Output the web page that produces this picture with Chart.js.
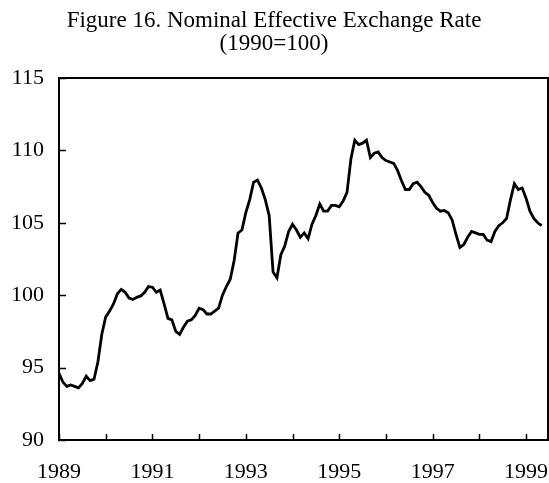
<!DOCTYPE html>
<html>
<head>
<meta charset="utf-8">
<script src="https://cdn.jsdelivr.net/npm/chart.js@4"></script>
<style>
  html, body { margin: 0; padding: 0; background: #fff; }
  #wrap { width: 549px; height: 483px; position: relative; }
</style>
</head>
<body>
<div id="wrap"><canvas id="c" width="549" height="483"></canvas></div>
<script>
// Monthly index, Jan 1989 .. May 1999 (1990=100)
const startYear = 1989;
const neerValues = [
  94.6, 94.0, 93.7, 93.8, 93.7, 93.6, 93.9, 94.4, 94.1, 94.2, 95.4, 97.3,   // 1989
  98.5, 98.9, 99.4, 100.1, 100.4, 100.2, 99.8, 99.7, 99.85, 99.95, 100.2, 100.6, // 1990
  100.55, 100.2, 100.35, 99.4, 98.4, 98.3, 97.5, 97.3, 97.8, 98.2, 98.3, 98.6,  // 1991
  99.1, 99.0, 98.7, 98.7, 98.9, 99.1, 100.0, 100.6, 101.1, 102.4, 104.3, 104.5, // 1992
  105.7, 106.6, 107.8, 107.95, 107.4, 106.6, 105.5, 101.6, 101.2, 102.8, 103.4, 104.4, // 1993
  104.9, 104.5, 104.0, 104.3, 103.9, 104.9, 105.5, 106.3, 105.8, 105.8, 106.2, 106.2, // 1994
  106.1, 106.5, 107.1, 109.4, 110.7, 110.4, 110.5, 110.7, 109.5, 109.8, 109.9, 109.5, // 1995
  109.3, 109.2, 109.1, 108.6, 107.9, 107.3, 107.3, 107.7, 107.8, 107.5, 107.1, 106.9, // 1996
  106.4, 106.0, 105.8, 105.85, 105.7, 105.2, 104.2, 103.3, 103.5, 104.0, 104.4, 104.3, // 1997
  104.2, 104.2, 103.8, 103.7, 104.4, 104.8, 105.0, 105.3, 106.6, 107.7, 107.3, 107.4, // 1998
  106.7, 105.8, 105.3, 105.0, 104.8                                                   // 1999
];
const yearTicks = [1989, 1990, 1991, 1992, 1993, 1994, 1995, 1996, 1997, 1998, 1999];
const yearLabels = ['1989', '', '1991', '', '1993', '', '1995', '', '1997', '', '1999'];
const yTickValues = [90, 95, 100, 105, 110, 115];
const titleLines = ['Figure 16. Nominal Effective Exchange Rate', '(1990=100)'];

const points = neerValues.map((v, i) => ({ x: startYear + i / 12, y: v }));

const serif = '"Liberation Serif", "Times New Roman", serif';

const frameAndTicks = {
  id: 'frameAndTicks',
  afterDraw(chart) {
    const { ctx, chartArea: a, scales } = chart;
    ctx.save();
    ctx.strokeStyle = '#000';
    ctx.lineWidth = 2;
    ctx.strokeRect(a.left, a.top, a.right - a.left, a.bottom - a.top);
    ctx.lineWidth = 1.5;
    ctx.beginPath();
    scales.y.ticks.forEach(t => {
      const py = Math.round(scales.y.getPixelForValue(t.value)) + 0.5;
      ctx.moveTo(a.left, py);
      ctx.lineTo(a.left + 7, py);
    });
    scales.x.ticks.forEach(t => {
      const px = Math.round(scales.x.getPixelForValue(t.value)) + 0.5;
      ctx.moveTo(px, a.bottom);
      ctx.lineTo(px, a.bottom - 6);
    });
    ctx.stroke();
    ctx.restore();
  }
};

new Chart(document.getElementById('c'), {
  type: 'line',
  data: {
    datasets: [{
      data: points,
      borderColor: '#000',
      borderWidth: 2.8,
      pointRadius: 0,
      tension: 0,
      fill: false
    }]
  },
  options: {
    responsive: false,
    animation: false,
    layout: { padding: { left: 0, right: 1, top: 0, bottom: 0 } },
    plugins: {
      legend: { display: false },
      tooltip: { enabled: false },
      title: {
        display: true,
        text: titleLines,
        color: '#000',
        font: { family: serif, size: 23, weight: 'normal', lineHeight: 1.0 },
        padding: { top: 9, bottom: 23 }
      }
    },
    scales: {
      x: {
        type: 'linear',
        min: startYear,
        max: 1999.47,
        afterBuildTicks: (scale) => { scale.ticks = yearTicks.map(v => ({ value: v })); },
        afterFit: (scale) => { scale.height = 43; scale.paddingLeft = 0; scale.paddingRight = 0; },
        grid: { display: false, drawTicks: false },
        border: { display: true, color: '#000', width: 2 },
        ticks: {
          autoSkip: false,
          maxRotation: 0,
          padding: 19,
          color: '#000',
          font: { family: serif, size: 22 },
          callback: (v) => { const i = yearTicks.indexOf(v); return i >= 0 ? yearLabels[i] : ''; }
        }
      },
      y: {
        min: 90,
        max: 115,
        afterBuildTicks: (scale) => { scale.ticks = yTickValues.map(v => ({ value: v })); },
        afterFit: (scale) => { scale.width = 59; scale.paddingTop = 0; scale.paddingBottom = 0; },
        grid: { display: false, drawTicks: false },
        border: { display: true, color: '#000', width: 2 },
        ticks: {
          padding: 15,
          color: '#000',
          font: { family: serif, size: 22 }
        }
      }
    }
  },
  plugins: [frameAndTicks]
});
</script>
</body>
</html>
